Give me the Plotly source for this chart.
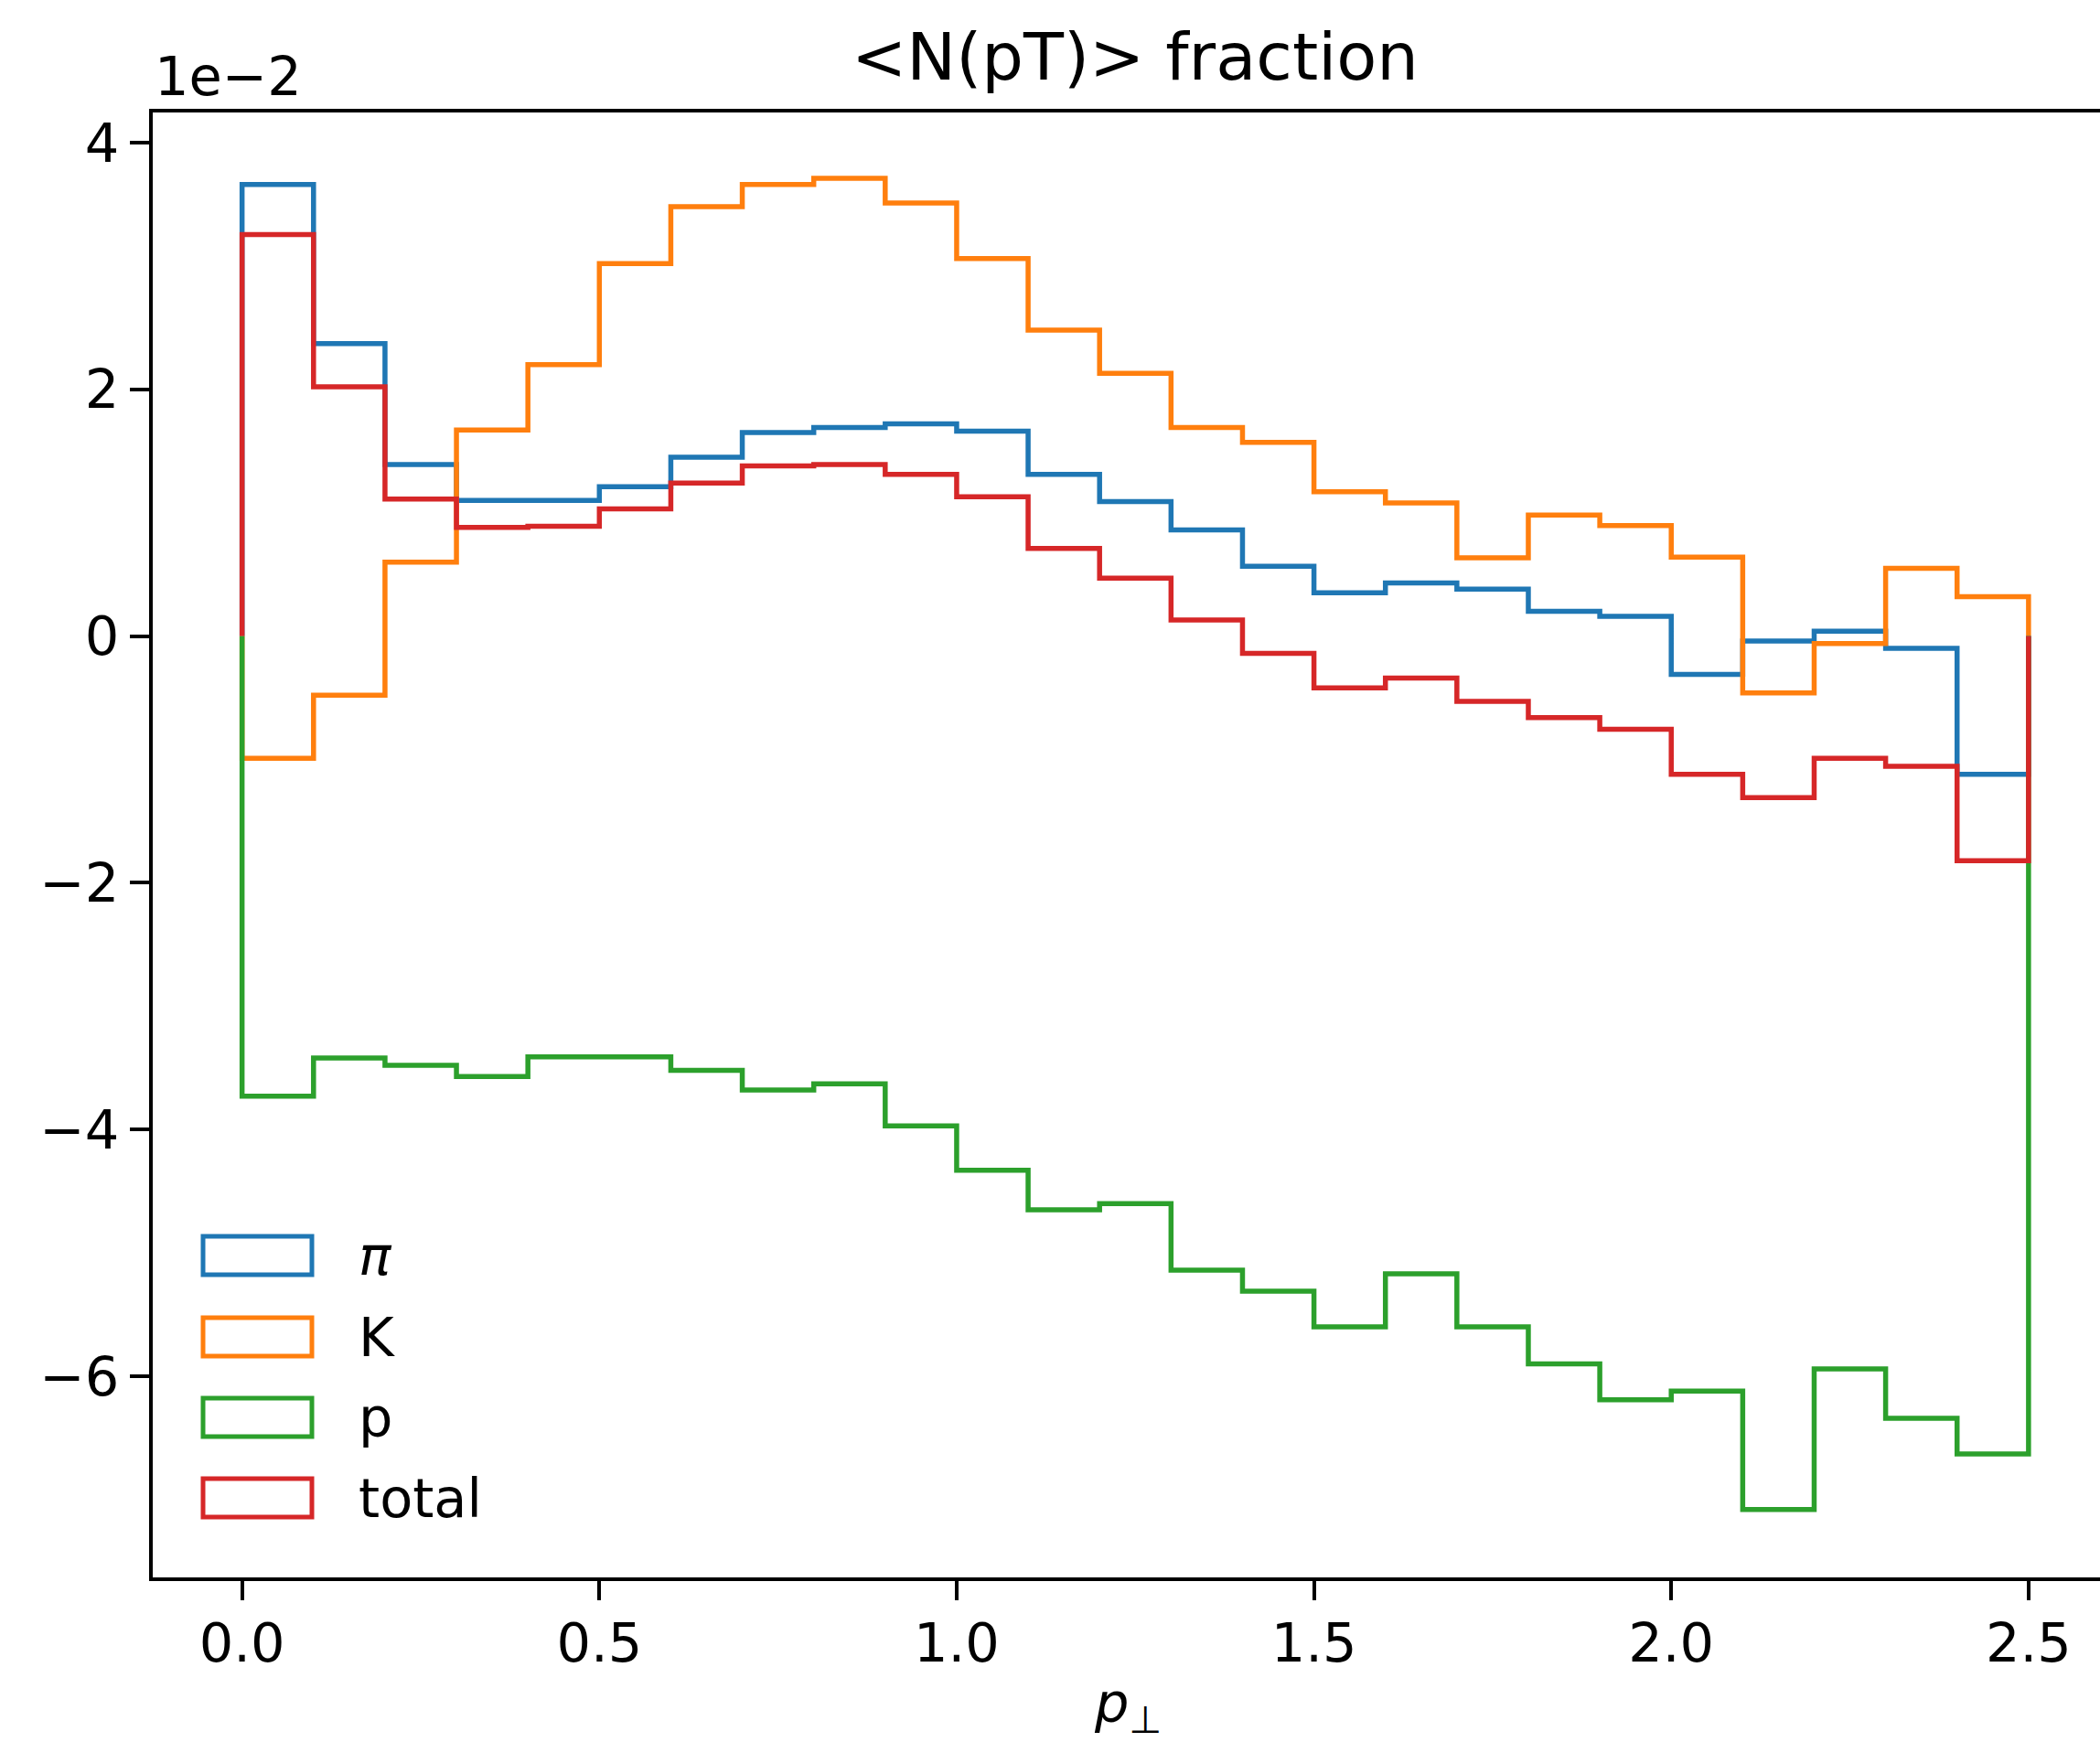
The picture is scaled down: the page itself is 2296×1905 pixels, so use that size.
import plotly.graph_objects as go

# bin edges of p_perp (25 bins of width 0.1)
bin_edges = [0.0, 0.1, 0.2, 0.3, 0.4, 0.5, 0.6, 0.7, 0.8, 0.9, 1.0, 1.1, 1.2,
             1.3, 1.4, 1.5, 1.6, 1.7, 1.8, 1.9, 2.0, 2.1, 2.2, 2.3, 2.4, 2.5]

# values in units of 1e-2
pi_vals = [3.66, 2.37, 1.39, 1.10, 1.10, 1.21, 1.45, 1.65, 1.69, 1.72, 1.66, 1.31,
           1.09, 0.86, 0.565, 0.35, 0.43, 0.38, 0.20, 0.16, -0.31, -0.04, 0.04, -0.10, -1.12]
k_vals = [-0.99, -0.48, 0.60, 1.67, 2.20, 3.02, 3.48, 3.66, 3.71, 3.51, 3.06, 2.48,
          2.13, 1.69, 1.57, 1.17, 1.08, 0.635, 0.98, 0.895, 0.64, -0.46, -0.06, 0.55, 0.32]
p_vals = [-3.73, -3.42, -3.48, -3.57, -3.41, -3.41, -3.52, -3.68, -3.63, -3.97, -4.33, -4.65,
          -4.60, -5.14, -5.31, -5.60, -5.17, -5.60, -5.90, -6.19, -6.12, -7.08, -5.94, -6.34, -6.63]
total_vals = [3.255, 2.02, 1.11, 0.88, 0.89, 1.03, 1.24, 1.38, 1.39, 1.31, 1.13, 0.71,
              0.47, 0.13, -0.14, -0.42, -0.34, -0.53, -0.66, -0.755, -1.12, -1.31, -0.99, -1.055, -1.82]

series_names = ["<i>π</i>", "K", "p", "total"]
series_vals = [pi_vals, k_vals, p_vals, total_vals]
colors = ["#1f77b4", "#ff7f0e", "#2ca02c", "#d62728"]

x_ticks = [0.0, 0.5, 1.0, 1.5, 2.0, 2.5]
y_ticks = [-6, -4, -2, 0, 2, 4]

W, H = 2296, 1905
L, T, R, B = 167, 123, 2296, 1725  # plot area in px
FONT = "DejaVu Sans"
LW = 5.5

def px_x(x):
    return (x - L) / (R - L)

def px_y(y):
    return (B - y) / (B - T)

fig = go.Figure()
for name, vals, c in zip(series_names, series_vals, colors):
    xs = [bin_edges[0]] + bin_edges[:-1] + [bin_edges[-1]]
    ys = [0] + vals + [0]
    fig.add_trace(go.Scatter(x=xs, y=ys, mode="lines", line=dict(color=c, width=LW, shape="hv"),
                             name=name, showlegend=False))

# legend drawn as matplotlib-style patch handles
leg_centers = [1373, 1462, 1550, 1638]
shapes = []
annotations = []
for name, c, cy in zip(series_names, colors, leg_centers):
    shapes.append(dict(type="rect", xref="paper", yref="paper",
                       x0=px_x(222), x1=px_x(341), y0=px_y(cy - 21), y1=px_y(cy + 21),
                       line=dict(color=c, width=5), fillcolor="rgba(0,0,0,0)"))
    annotations.append(dict(text=name, xref="paper", yref="paper", x=px_x(390), y=px_y(cy),
                            xanchor="left", yanchor="middle", showarrow=False,
                            font=dict(family=FONT, size=59, color="black")))

annotations.append(dict(text="&lt;N(pT)&gt; fraction", xref="x", yref="paper", x=1.25, y=px_y(62),
                        xanchor="center", yanchor="middle", showarrow=False,
                        font=dict(family=FONT, size=72, color="black")))
annotations.append(dict(text="1e−2", xref="paper", yref="paper", x=0, y=1, xanchor="left",
                        yanchor="bottom", yshift=3, showarrow=False,
                        font=dict(family=FONT, size=59, color="black")))
annotations.append(dict(text="<i>p</i><sub>⊥</sub>", xref="x", yref="paper", x=1.24, y=px_y(1866),
                        xanchor="center", yanchor="middle", showarrow=False,
                        font=dict(family=FONT, size=59, color="black")))

fig.update_layout(
    width=W, height=H,
    margin=dict(l=L, r=W - R, t=T, b=H - B, pad=0),
    paper_bgcolor="white", plot_bgcolor="white",
    showlegend=False,
    shapes=shapes, annotations=annotations,
    font=dict(family=FONT, size=59, color="black"),
)
fig.update_xaxes(range=[-0.125, 2.6], tickvals=x_ticks, ticktext=[f"{v:.1f}" for v in x_ticks],
                 ticks="outside", ticklen=21, tickwidth=4, tickcolor="black",
                 showline=True, linewidth=4, linecolor="black", mirror=True,
                 showgrid=False, zeroline=False, tickfont=dict(family=FONT, size=59),
                 ticklabelstandoff=-4)
fig.update_yaxes(range=[-7.63, 4.244], tickvals=y_ticks,
                 ticks="outside", ticklen=21, tickwidth=4, tickcolor="black",
                 showline=True, linewidth=4, linecolor="black", mirror=False,
                 showgrid=False, zeroline=False, tickfont=dict(family=FONT, size=59))

fig.write_html("out.html")
